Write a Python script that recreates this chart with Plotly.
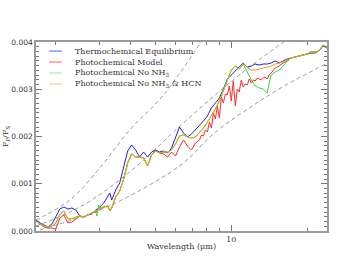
import math
import plotly.graph_objects as go

# ---------------- data (wavelength in micron, planet/star flux ratio) ----------------
wl_base = [1.680, 1.742, 1.807, 1.874, 1.943, 2.015, 2.090, 2.168, 2.248, 2.331,
           2.417, 2.507, 2.600, 2.696, 2.796, 2.900, 3.007, 3.119, 3.235, 3.294,
           3.355, 3.479, 3.608, 3.742, 3.881, 4.025, 4.175, 4.329, 4.490, 4.656,
           4.829, 5.008, 5.194, 5.387, 5.585, 5.793, 6.008, 6.230, 6.462, 6.701,
           6.950, 7.207, 7.475, 7.752, 8.039, 8.337, 8.647, 8.967, 9.299, 9.643,
           10.00, 10.37, 10.75, 11.15, 11.57, 12.00, 12.44, 12.90, 13.38, 13.88,
           14.39, 14.93, 15.48, 16.05, 16.65, 17.26, 17.91, 18.57, 19.26, 19.97,
           20.71, 21.48, 22.27, 23.10, 23.96]

f_thermo = [0.233e-3, 0.169e-3, 0.127e-3, 0.085e-3, 0.148e-3, 0.296e-3, 0.466e-3, 0.508e-3, 0.466e-3, 0.487e-3,
            0.444e-3, 0.317e-3, 0.296e-3, 0.339e-3, 0.360e-3, 0.444e-3, 0.508e-3, 0.593e-3, 0.720e-3, 0.804e-3,
            0.656e-3, 0.868e-3, 1.016e-3, 1.333e-3, 1.693e-3, 1.820e-3, 1.714e-3, 1.566e-3, 1.672e-3, 1.566e-3,
            1.672e-3, 1.714e-3, 1.672e-3, 1.693e-3, 1.651e-3, 1.757e-3, 1.968e-3, 2.201e-3, 2.074e-3, 1.989e-3,
            2.053e-3, 2.138e-3, 2.243e-3, 2.328e-3, 2.434e-3, 2.603e-3, 2.709e-3, 2.815e-3, 3.000e-3, 3.217e-3,
            3.302e-3, 3.386e-3, 3.450e-3, 3.556e-3, 3.471e-3, 3.492e-3, 3.534e-3, 3.513e-3, 3.534e-3, 3.534e-3,
            3.556e-3, 3.598e-3, 3.556e-3, 3.598e-3, 3.640e-3, 3.661e-3, 3.683e-3, 3.704e-3, 3.725e-3, 3.746e-3,
            3.767e-3, 3.767e-3, 3.810e-3, 3.915e-3, 3.873e-3]

f_nonh3hcn = [0.212e-3, 0.148e-3, 0.106e-3, 0.085e-3, 0.106e-3, 0.169e-3, 0.360e-3, 0.423e-3, 0.254e-3, 0.254e-3,
              0.296e-3, 0.317e-3, 0.296e-3, 0.339e-3, 0.381e-3, 0.423e-3, 0.487e-3, 0.508e-3, 0.529e-3, 0.423e-3,
              0.487e-3, 0.720e-3, 0.847e-3, 1.101e-3, 1.439e-3, 1.630e-3, 1.566e-3, 1.566e-3, 1.545e-3, 1.376e-3,
              1.608e-3, 1.693e-3, 1.651e-3, 1.672e-3, 1.672e-3, 1.714e-3, 1.841e-3, 2.011e-3, 2.032e-3, 1.989e-3,
              1.968e-3, 1.989e-3, 2.074e-3, 2.180e-3, 2.307e-3, 2.434e-3, 2.582e-3, 2.751e-3, 2.963e-3, 3.196e-3,
              3.407e-3, 3.492e-3, 3.429e-3, 3.534e-3, 3.471e-3, 3.407e-3, 3.407e-3, 3.429e-3, 3.450e-3, 3.471e-3,
              3.492e-3, 3.534e-3, 3.556e-3, 3.577e-3, 3.619e-3, 3.661e-3, 3.683e-3, 3.704e-3, 3.725e-3, 3.746e-3,
              3.788e-3, 3.788e-3, 3.810e-3, 3.937e-3, 3.873e-3]

wl_photo = [1.680, 1.742, 1.807, 1.874, 1.943, 2.015, 2.090, 2.168, 2.248, 2.331,
            2.417, 2.507, 2.600, 2.696, 2.796, 2.900, 3.007, 3.119, 3.235, 3.294,
            3.355, 3.479, 3.608, 3.742, 3.881, 4.025, 4.175, 4.329, 4.490, 4.656,
            4.829, 5.008, 5.194, 5.387, 5.585, 5.793, 6.008, 6.230, 6.462, 6.701,
            6.950, 7.207,
            7.475, 7.612, 7.752, 7.894, 8.039, 8.185, 8.337, 8.490, 8.647, 8.805,
            8.967, 9.130, 9.299, 9.469, 9.643, 9.819, 10.00, 10.18, 10.37, 10.56,
            10.75, 10.95, 11.15, 11.36, 11.57, 11.78, 12.00, 12.22, 12.44, 12.67,
            12.90, 13.14, 13.38, 13.63, 13.88, 14.13, 14.39,
            14.93, 15.48, 16.05, 16.65, 17.26, 17.91, 18.57, 19.26, 19.97, 20.71,
            21.48, 22.27, 23.10, 23.96]

f_photo = [0.212e-3, 0.148e-3, 0.085e-3, 0.063e-3, 0.063e-3, 0.042e-3, 0.275e-3, 0.339e-3, 0.169e-3, 0.190e-3,
           0.254e-3, 0.317e-3, 0.296e-3, 0.339e-3, 0.381e-3, 0.402e-3, 0.466e-3, 0.508e-3, 0.529e-3, 0.423e-3,
           0.487e-3, 0.720e-3, 0.847e-3, 1.101e-3, 1.439e-3, 1.630e-3, 1.566e-3, 1.566e-3, 1.545e-3, 1.376e-3,
           1.608e-3, 1.693e-3, 1.651e-3, 1.630e-3, 1.566e-3, 1.672e-3, 1.587e-3, 1.778e-3, 1.926e-3, 1.799e-3,
           1.714e-3, 1.862e-3,
           1.926e-3, 2.032e-3, 2.011e-3, 2.138e-3, 2.095e-3, 2.307e-3, 2.180e-3, 2.497e-3, 2.370e-3, 2.646e-3,
           2.392e-3, 2.836e-3, 2.709e-3, 2.900e-3, 2.878e-3, 3.069e-3, 2.751e-3, 3.175e-3, 2.646e-3, 3.005e-3,
           2.942e-3, 3.196e-3, 3.048e-3, 3.111e-3, 3.090e-3, 3.217e-3, 3.132e-3, 3.196e-3, 3.175e-3, 3.238e-3,
           3.217e-3, 3.196e-3, 3.238e-3, 3.259e-3, 3.217e-3, 3.302e-3, 3.344e-3,
           3.450e-3, 3.492e-3, 3.556e-3, 3.598e-3, 3.661e-3, 3.683e-3, 3.704e-3, 3.725e-3, 3.746e-3, 3.788e-3,
           3.788e-3, 3.810e-3, 3.937e-3, 3.873e-3]

wl_nonh3 = [1.680, 1.742, 1.807, 1.874, 1.943, 2.015, 2.090, 2.168, 2.248, 2.331,
            2.417, 2.507, 2.600, 2.696, 2.796, 2.900, 2.927, 2.981, 3.007, 3.119,
            3.235, 3.294, 3.355, 3.479, 3.608, 3.742, 3.881, 4.025, 4.175, 4.329,
            4.490, 4.656, 4.829, 5.008, 5.194, 5.387, 5.585, 5.793, 6.008, 6.230,
            6.462, 6.701, 6.950, 7.207, 7.475, 7.752, 8.039, 8.337, 8.647, 8.967,
            9.299, 9.643, 10.00, 10.37, 10.75, 11.15, 11.57, 12.00, 12.44, 12.90,
            13.38, 13.88, 14.13, 14.39, 14.93, 15.48, 16.05, 16.65, 17.26, 17.91,
            18.57, 19.26, 19.97, 20.71, 21.48, 22.27, 23.10, 23.96]

f_nonh3 = [0.212e-3, 0.148e-3, 0.106e-3, 0.085e-3, 0.106e-3, 0.169e-3, 0.360e-3, 0.423e-3, 0.254e-3, 0.254e-3,
           0.296e-3, 0.317e-3, 0.296e-3, 0.339e-3, 0.381e-3, 0.423e-3, 0.317e-3, 0.550e-3, 0.487e-3, 0.508e-3,
           0.529e-3, 0.423e-3, 0.487e-3, 0.720e-3, 0.847e-3, 1.101e-3, 1.439e-3, 1.630e-3, 1.566e-3, 1.566e-3,
           1.545e-3, 1.376e-3, 1.608e-3, 1.693e-3, 1.651e-3, 1.672e-3, 1.672e-3, 1.714e-3, 1.841e-3, 2.011e-3,
           2.032e-3, 1.989e-3, 1.968e-3, 1.989e-3, 2.074e-3, 2.180e-3, 2.307e-3, 2.434e-3, 2.582e-3, 2.751e-3,
           2.963e-3, 3.196e-3, 3.407e-3, 3.492e-3, 3.429e-3, 3.534e-3, 3.365e-3, 3.196e-3, 3.069e-3, 3.026e-3,
           3.005e-3, 2.921e-3, 3.132e-3, 3.302e-3, 3.365e-3, 3.407e-3, 3.492e-3, 3.598e-3, 3.661e-3, 3.683e-3,
           3.704e-3, 3.725e-3, 3.746e-3, 3.788e-3, 3.788e-3, 3.810e-3, 3.937e-3, 3.873e-3]

# grey dashed reference curves
wl_ref_hot = [1.680, 2.289, 3.007, 3.953, 5.338, 7.680]
f_ref_hot = [0.233e-3, 0.656e-3, 1.333e-3, 2.138e-3, 2.857e-3, 4.042e-3]
wl_ref_mid = [1.680, 2.507, 3.953, 6.580, 10.75, 16.95]
f_ref_mid = [0.106e-3, 0.508e-3, 1.249e-3, 2.328e-3, 3.302e-3, 4.085e-3]
wl_ref_cool = [1.742, 3.007, 4.740, 6.520, 8.567, 11.78, 16.20, 23.70]
f_ref_cool = [0.021e-3, 0.444e-3, 0.974e-3, 1.460e-3, 2.074e-3, 2.603e-3, 3.069e-3, 3.534e-3]

series_names = ["Thermochemical Equilibrium", "Photochemical Model",
                "Photochemical No NH<sub>3</sub>", "Photochemical No NH<sub>3</sub> &amp; HCN"]
x_major_ticks = [10]
x_minor_ticks = [2, 3, 4, 5, 6, 7, 8, 9, 20]
y_ticks = [0.0, 0.001, 0.002, 0.003, 0.004]
y_ticklabels = ["0.000", "0.001", "0.002", "0.003", "0.004"]

# ---------------- figure ----------------
fig = go.Figure()
for wl, fl in [(wl_ref_hot, f_ref_hot), (wl_ref_mid, f_ref_mid), (wl_ref_cool, f_ref_cool)]:
    fig.add_trace(go.Scatter(x=wl, y=fl, mode="lines", showlegend=False, hoverinfo="skip",
                             line=dict(color="#9c9c9c", width=1, dash="4px,3px", shape="spline")))

colors = ["#2020e0", "#ff2a2a", "#3cd83c", "#dcaa12"]
legend_colors = ["#5a5aff", "#ff5a5a", "#8cf08c", "#f0c870"]
data = [(wl_base, f_thermo), (wl_photo, f_photo), (wl_nonh3, f_nonh3), (wl_base, f_nonh3hcn)]
for name, col, (wl, fl) in zip(series_names, colors, data):
    fig.add_trace(go.Scatter(x=wl, y=fl, mode="lines", name=name, showlegend=False,
                             line=dict(color=col, width=1)))

# hand-drawn legend (compact IDL-style rows)
legend_rows_y = [0.952, 0.894, 0.836, 0.778]
for name, col, yy in zip(series_names, legend_colors, legend_rows_y):
    fig.add_shape(type="line", xref="paper", yref="paper", x0=0.045, x1=0.089, y0=yy, y1=yy,
                  line=dict(color=col, width=1))
    fig.add_annotation(xref="paper", yref="paper", x=0.127, y=yy, text=name, showarrow=False,
                       xanchor="left", yanchor="middle",
                       font=dict(family="DejaVu Serif", size=8, color="#333"))

axis_common = dict(showline=True, linecolor="#9a9a9a", linewidth=1.5, mirror="ticks",
                   ticks="inside", tickcolor="#777", tickwidth=1, showgrid=False,
                   zeroline=False, automargin=False)

fig.update_layout(
    width=364, height=260,
    margin=dict(l=36, r=37, t=42, b=29, autoexpand=False),
    paper_bgcolor="white", plot_bgcolor="white",
    font=dict(family="DejaVu Sans", size=8, color="#333"),
    xaxis=dict(type="log", range=[math.log10(1.68), math.log10(23.96)],
               tickmode="array", tickvals=x_major_ticks, ticktext=["10"], ticklen=6,
               minor=dict(tickmode="array", tickvals=x_minor_ticks, ticks="inside",
                          ticklen=3, tickcolor="#777"),
               title=dict(text="Wavelength (μm)", standoff=0,
                          font=dict(family="DejaVu Serif", size=8, color="#333")),
               tickfont=dict(family="DejaVu Serif", size=8),
               **axis_common),
    yaxis=dict(range=[0, 0.004], tickmode="array", tickvals=y_ticks, ticktext=y_ticklabels,
               ticklen=6, tickfont=dict(family="DejaVu Sans", size=7.5),
               minor=dict(dtick=0.0001, ticks="inside", ticklen=3, tickcolor="#777"),
               title=dict(text="F<sub>P</sub>/F<sub>S</sub>", standoff=1,
                          font=dict(family="DejaVu Serif", size=8, color="#333")),
               **axis_common),
    showlegend=False,
)

# remove the browser's default 8px page margin so the figure fills the window exactly
fig.write_html("out.html", config={"displayModeBar": False},
               post_script="document.body.style.margin='0px';")
